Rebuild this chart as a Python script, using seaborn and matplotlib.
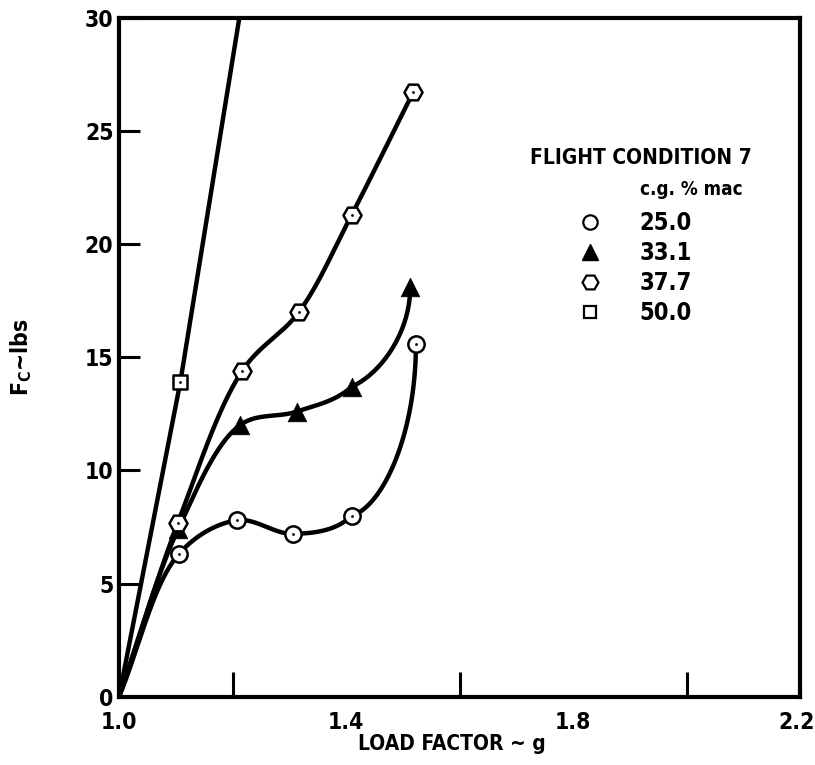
import numpy as np
import seaborn as sns
import matplotlib.pyplot as plt
import matplotlib.transforms as mtransforms
from matplotlib.lines import Line2D

# load factor (g) and column force (lbs)
x_25 = [1.0, 1.105, 1.208, 1.307, 1.41, 1.523]
y_25 = [0.0, 6.3, 7.8, 7.2, 8.0, 15.6]

x_33 = [1.0, 1.104, 1.213, 1.313, 1.41, 1.513]
y_33 = [0.0, 7.4, 12.0, 12.6, 13.7, 18.1]

x_37 = [1.0, 1.104, 1.217, 1.317, 1.41, 1.518]
y_37 = [0.0, 7.7, 14.4, 17.0, 21.3, 26.7]

x_50 = [1.0, 1.108, 1.212]
y_50 = [0.0, 13.9, 30.0]

cg_labels = ['25.0', '33.1', '37.7', '50.0']


def smooth(xs, ys, n=40, end_up=None):
    # centripetal catmull-rom through the read points (x and y scaled alike)
    sx, sy = 1.2, 30.0
    p = np.column_stack([np.array(xs) / sx, np.array(ys) / sy])
    p = np.vstack([2 * p[0] - p[1], p, 2 * p[-1] - p[-2]])
    out = []
    nseg = len(p) - 3
    for i in range(1, len(p) - 2):
        p0, p1, p2, p3 = p[i - 1], p[i], p[i + 1], p[i + 2]
        if end_up is not None and i == nseg:
            # last stretch is drawn arriving straight up into the end point
            t = np.linspace(0, 1, n)[:, None]
            m1 = (p1 - p0) * 1.6
            m2 = np.array([0.0, end_up])
            c = ((2 * t ** 3 - 3 * t ** 2 + 1) * p1 + (t ** 3 - 2 * t ** 2 + t) * m1
                 + (-2 * t ** 3 + 3 * t ** 2) * p2 + (t ** 3 - t ** 2) * m2)
            out.append(c)
            continue
        t0 = 0.0
        t1 = t0 + np.linalg.norm(p1 - p0) ** 0.5
        t2 = t1 + np.linalg.norm(p2 - p1) ** 0.5
        t3 = t2 + np.linalg.norm(p3 - p2) ** 0.5
        t = np.linspace(t1, t2, n)[:, None]
        a1 = (t1 - t) / (t1 - t0) * p0 + (t - t0) / (t1 - t0) * p1
        a2 = (t2 - t) / (t2 - t1) * p1 + (t - t1) / (t2 - t1) * p2
        a3 = (t3 - t) / (t3 - t2) * p2 + (t - t2) / (t3 - t2) * p3
        b1 = (t2 - t) / (t2 - t0) * a1 + (t - t0) / (t2 - t0) * a2
        b2 = (t3 - t) / (t3 - t1) * a2 + (t - t1) / (t3 - t1) * a3
        c = (t2 - t) / (t2 - t1) * b1 + (t - t1) / (t2 - t1) * b2
        out.append(c)
    out = np.vstack(out)
    return out[:, 0] * sx, out[:, 1] * sy


sns.set_theme(style='ticks')
plt.rcParams['font.family'] = ['DejaVu Sans']
plt.rcParams['font.stretch'] = 'condensed'
plt.rcParams['font.weight'] = 'bold'
plt.rcParams['text.color'] = 'black'
plt.rcParams['axes.labelcolor'] = 'black'
plt.rcParams['mathtext.default'] = 'regular'

fig = plt.figure(figsize=(8.15, 7.65), dpi=100)
ax = fig.add_axes([0.146, 0.089, 0.836, 0.888])

series = [
    (x_25, y_25, 'o', 9, True, 0.4),
    (x_33, y_33, '^', 10, False, 0.2),
    (x_37, y_37, 'H', 10, True, None),
    (x_50, y_50, 's', 8, True, None),
]

handles = []
for (xs, ys, mk, ms, dot, up), lab in zip(series, cg_labels):
    if mk == 's':
        cx, cy = xs, ys
    else:
        cx, cy = smooth(xs, ys, end_up=up)
    sns.lineplot(x=cx, y=cy, sort=False, estimator=None, color='black',
                 linewidth=3.2, ax=ax, zorder=2)
    px, py = xs[1:], ys[1:]
    if mk == 's':
        px, py = xs[1:2], ys[1:2]
    if dot:
        sns.scatterplot(x=px, y=py, marker=mk, s=ms ** 2 * 1.7, color='white',
                        edgecolor='black', linewidth=1.8, ax=ax, zorder=3)
        sns.scatterplot(x=px, y=py, marker='o', s=4, color='black',
                        edgecolor='black', linewidth=0, ax=ax, zorder=4)
        handles.append(Line2D([], [], marker=mk, color='black', markerfacecolor='white',
                              markeredgewidth=1.6, markersize=ms * 1.15, linestyle='none'))
    else:
        sns.scatterplot(x=px, y=py, marker=mk, s=ms ** 2 * 1.8, color='black',
                        edgecolor='black', linewidth=0.5, ax=ax, zorder=3)
        handles.append(Line2D([], [], marker=mk, color='black', markersize=ms * 1.2,
                              linestyle='none'))

ax.set_xlim(1.0, 2.2)
ax.set_ylim(0, 30)
ax.set_xticks([1.0, 1.4, 1.8, 2.2])
ax.set_xticklabels(['1.0', '1.4', '1.8', '2.2'])
ax.set_xticks([1.2, 1.6, 2.0], minor=True)
ax.set_yticks([0, 5, 10, 15, 20, 25, 30])
ax.tick_params(axis='both', which='both', direction='in', length=15, width=2.2,
               labelsize=16.5, pad=4, colors='black')
ax.tick_params(axis='x', which='major', length=0, pad=10)
ax.tick_params(axis='x', which='minor', length=18)
for s in ax.spines.values():
    s.set_linewidth(3)
    s.set_color('black')

# pull the last x label in a little so it stays on the page
last_lab = ax.get_xticklabels()[-1]
last_lab.set_transform(last_lab.get_transform() +
                       mtransforms.ScaledTranslation(-4 / 100, 0, fig.dpi_scale_trans))

ax.set_xlabel('LOAD FACTOR ~ g', fontsize=15, fontweight='bold')
ax.xaxis.set_label_coords(0.489, -0.054)
ax.set_ylabel(r'$F_C$~lbs', fontsize=16.5, fontweight='bold')
ax.yaxis.set_label_coords(-0.125, 0.5)

ax.text(0.603, 0.794, 'FLIGHT CONDITION 7', transform=ax.transAxes, fontsize=15,
        fontweight='bold', ha='left', va='center')
ax.text(0.765, 0.747, 'c.g. % mac', transform=ax.transAxes, fontsize=13.5,
        fontweight='bold', ha='left', va='center')
leg = ax.legend(handles, cg_labels, loc='upper left',
                bbox_to_anchor=(0.639, 0.746), frameon=False, fontsize=17,
                handletextpad=1.5, labelspacing=0.25, handlelength=1.2)

fig.savefig('out.png', dpi=100)
